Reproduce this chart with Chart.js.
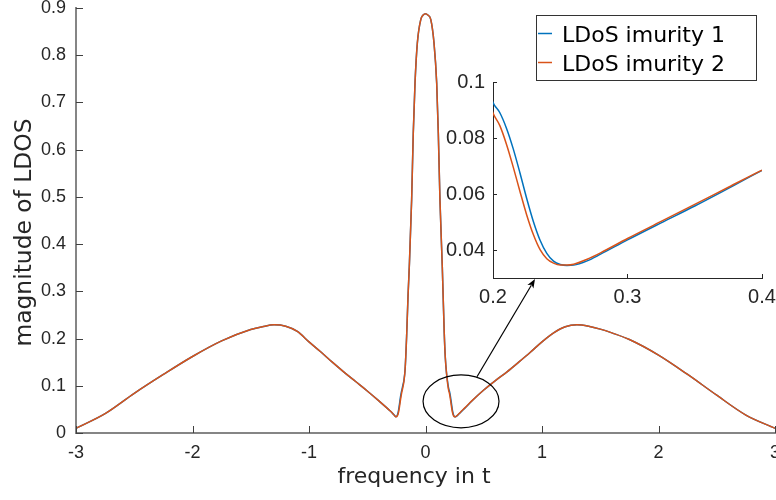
<!DOCTYPE html>
<html>
<head>
<meta charset="utf-8">
<script src="https://cdn.jsdelivr.net/npm/chart.js@4.4.0/dist/chart.umd.min.js"></script>
<style>
  html, body { margin: 0; padding: 0; background: #ffffff; }
  #wrap { position: relative; width: 776px; height: 500px; overflow: hidden; }
  #main { position: absolute; left: 0; top: 0; }
  #inset { position: absolute; left: 443px; top: 72px; }
</style>
</head>
<body>
<div id="wrap">
  <canvas id="main" width="776" height="500"></canvas>
  <canvas id="inset" width="333" height="240"></canvas>
</div>
<script>
// Local density of states for the two impurities versus frequency
const freq = [
  -3, -2.75, -2.5, -2.25, -2, -1.75, -1.5, -1.4, -1.3, -1.2, -1.1, -1, -0.9, -0.8, -0.7, -0.6, -0.5, -0.4, -0.3,
  -0.28, -0.265, -0.255, -0.245, -0.235, -0.225, -0.215, -0.205, -0.195, -0.185, -0.175, -0.162, -0.15, -0.139,
  -0.119, -0.105, -0.09, -0.07, -0.04, -0.02, 0, 0.02, 0.045, 0.073, 0.096, 0.11, 0.124, 0.144, 0.161, 0.17,
  0.18, 0.19, 0.2, 0.205, 0.21, 0.215, 0.22, 0.225, 0.23, 0.235, 0.24, 0.245, 0.25, 0.255, 0.26, 0.27, 0.28,
  0.3, 0.325, 0.35, 0.375, 0.4, 0.5, 0.6, 0.7, 0.8, 0.9, 1, 1.1, 1.2, 1.3, 1.4, 1.5, 1.6, 1.75, 2, 2.25, 2.5,
  2.75, 3
];
const ldos1 = [
  0.010, 0.041, 0.084, 0.124, 0.162, 0.195, 0.219, 0.225, 0.229, 0.226, 0.215, 0.193, 0.172, 0.150, 0.129, 0.109, 0.089, 0.068, 0.046,
  0.041, 0.037, 0.0345, 0.0360, 0.0435, 0.0585, 0.0762, 0.0891, 0.100, 0.112, 0.135, 0.205, 0.29, 0.353,
  0.494, 0.635, 0.741, 0.826, 0.876, 0.885, 0.888, 0.885, 0.876, 0.826, 0.741, 0.635, 0.494, 0.353, 0.211, 0.16,
  0.128, 0.108, 0.0927, 0.0891, 0.0835, 0.0762, 0.0676, 0.0585, 0.0502, 0.0435, 0.0388, 0.0360, 0.0348, 0.0345, 0.0346, 0.0361, 0.0385,
  0.0436, 0.0497, 0.0557, 0.062, 0.0684, 0.091, 0.111, 0.1295, 0.150, 0.171, 0.193, 0.212, 0.225, 0.229, 0.226, 0.220, 0.212, 0.198, 0.165, 0.124, 0.080,
  0.038, 0.010
];
const ldos2 = [
  0.010, 0.041, 0.084, 0.124, 0.162, 0.195, 0.219, 0.225, 0.229, 0.226, 0.215, 0.193, 0.172, 0.150, 0.129, 0.109, 0.089, 0.068, 0.046,
  0.041, 0.0365, 0.0346, 0.0353, 0.0401, 0.0526, 0.0697, 0.0845, 0.096, 0.110, 0.135, 0.205, 0.29, 0.353,
  0.494, 0.635, 0.741, 0.826, 0.876, 0.885, 0.888, 0.885, 0.876, 0.826, 0.741, 0.635, 0.494, 0.353, 0.211, 0.16,
  0.128, 0.104, 0.0889, 0.0845, 0.0778, 0.0697, 0.0610, 0.0526, 0.0455, 0.0401, 0.0369, 0.0353, 0.0346, 0.0346, 0.0349, 0.0367, 0.039,
  0.0441, 0.0502, 0.0563, 0.0624, 0.0685, 0.091, 0.111, 0.1295, 0.150, 0.171, 0.193, 0.212, 0.225, 0.229, 0.226, 0.220, 0.212, 0.198, 0.165, 0.124, 0.080,
  0.038, 0.010
];
const seriesNames = ['LDoS imurity 1', 'LDoS imurity 2'];

const xTickValues = [-3, -2, -1, 0, 1, 2, 3];
const xTickLabels = ['-3', '-2', '-1', '0', '1', '2', '3'];
const yTickValues = [0, 0.1, 0.2, 0.3, 0.4, 0.5, 0.6, 0.7, 0.8, 0.9];
const yTickLabels = ['0', '0.1', '0.2', '0.3', '0.4', '0.5', '0.6', '0.7', '0.8', '0.9'];
const insetXTickValues = [0.2, 0.3, 0.4];
const insetXTickLabels = ['0.2', '0.3', '0.4'];
const insetYTickValues = [0.04, 0.06, 0.08, 0.1];
const insetYTickLabels = ['0.04', '0.06', '0.08', '0.1'];

const xTitle = 'frequency in t';
const yTitle = 'magnitude of LDOS';

// Ellipse marking the dip next to the central peak, and the arrow pointing to the magnified view (data units)
const dipMarker = { cx: 0.305, cy: 0.067, rx: 0.326, ry: 0.056 };
const dipArrow = { x0: 0.442, y0: 0.119, x1: 0.94, y1: 0.326 };

const COLORS = ['#0072BD', '#D95319'];
const TEXT = '#262626';
const TICK_FAMILY = "'Liberation Sans', Arial, sans-serif";
const LABEL_FAMILY = "'DejaVu Sans', 'Liberation Sans', sans-serif";

Chart.defaults.color = TEXT;

function points(ys) {
  return freq.map((x, i) => ({ x: x, y: ys[i] }));
}

function makeDatasets() {
  return [ldos1, ldos2].map((ys, i) => ({
    label: seriesNames[i],
    data: points(ys),
    borderColor: COLORS[i],
    backgroundColor: COLORS[i],
    borderWidth: 1.5,
    pointRadius: 0,
    showLine: true,
    fill: false,
    cubicInterpolationMode: 'monotone',
    order: i === 0 ? 1 : 0,
    clip: 0
  }));
}

// Axis with a fixed list of ticks, fixed thickness and no extra label padding
function axis(min, max, values, labels, opts) {
  return {
    type: 'linear', min: min, max: max,
    afterBuildTicks(scale) { scale.ticks = values.map(v => ({ value: v })); },
    afterFit(s) {
      if (s.isHorizontal()) { s.height = opts.thickness; } else { s.width = opts.thickness; }
      s.paddingLeft = 0; s.paddingRight = 0; s.paddingTop = 0; s.paddingBottom = 0;
    },
    grid: { display: true, drawOnChartArea: false, drawTicks: false },
    border: { display: true, color: opts.lineColor, width: opts.lineWidth },
    ticks: {
      font: { family: TICK_FAMILY, size: opts.fontSize },
      color: TEXT,
      padding: opts.padding,
      maxRotation: 0,
      autoSkip: false,
      callback(value, index) { return labels[index]; }
    }
  };
}

// Tick marks pointing into the plot area
function inwardTicks(len, color) {
  return {
    id: 'inwardTicks',
    afterDatasetsDraw(chart) {
      const { ctx, chartArea: a, scales } = chart;
      ctx.save();
      ctx.strokeStyle = color;
      ctx.lineWidth = 1;
      ctx.beginPath();
      scales.x.ticks.forEach(t => {
        const px = Math.round(scales.x.getPixelForValue(t.value)) + 0.5;
        ctx.moveTo(px, a.bottom);
        ctx.lineTo(px, a.bottom - len);
      });
      scales.y.ticks.forEach(t => {
        const py = Math.round(scales.y.getPixelForValue(t.value)) + 0.5;
        ctx.moveTo(a.left, py);
        ctx.lineTo(a.left + len, py);
      });
      ctx.stroke();
      ctx.restore();
    }
  };
}

const annotations = {
  id: 'annotations',
  afterDatasetsDraw(chart) {
    const { ctx, scales: { x, y } } = chart;
    ctx.save();
    ctx.strokeStyle = '#000000';
    ctx.fillStyle = '#000000';
    ctx.lineWidth = 1.2;
    // ellipse around the dip
    const cx = x.getPixelForValue(dipMarker.cx);
    const cy = y.getPixelForValue(dipMarker.cy);
    const rx = x.getPixelForValue(dipMarker.cx + dipMarker.rx) - cx;
    const ry = cy - y.getPixelForValue(dipMarker.cy + dipMarker.ry);
    ctx.beginPath();
    ctx.ellipse(cx, cy, rx, ry, 0, 0, Math.PI * 2);
    ctx.stroke();
    // arrow towards the magnified view
    const x0 = x.getPixelForValue(dipArrow.x0), y0 = y.getPixelForValue(dipArrow.y0);
    const x1 = x.getPixelForValue(dipArrow.x1), y1 = y.getPixelForValue(dipArrow.y1);
    const ang = Math.atan2(y1 - y0, x1 - x0);
    const hl = 9, hw = 3.5;
    const c = Math.cos(ang), s = Math.sin(ang);
    ctx.beginPath();
    ctx.moveTo(x0, y0);
    ctx.lineTo(x1 - c * hl * 0.8, y1 - s * hl * 0.8);
    ctx.stroke();
    ctx.beginPath();
    ctx.moveTo(x1, y1);
    ctx.lineTo(x1 - c * hl - s * hw, y1 - s * hl + c * hw);
    ctx.lineTo(x1 - c * hl * 0.75, y1 - s * hl * 0.75);
    ctx.lineTo(x1 - c * hl + s * hw, y1 - s * hl - c * hw);
    ctx.closePath();
    ctx.fill();
    ctx.restore();
  }
};

// Axis titles and the boxed legend
const labelsAndLegend = {
  id: 'labelsAndLegend',
  afterDraw(chart) {
    const { ctx } = chart;
    ctx.save();
    ctx.fillStyle = TEXT;
    ctx.textAlign = 'center';
    ctx.textBaseline = 'middle';
    ctx.font = '22px ' + LABEL_FAMILY;
    ctx.fillText(xTitle, 414, 477);
    ctx.save();
    ctx.translate(25, 232.5);
    ctx.rotate(-Math.PI / 2);
    ctx.font = '23.4px ' + LABEL_FAMILY;
    ctx.fillText(yTitle, 0, 0);
    ctx.restore();

    // legend box
    const bx = 536.5, by = 15.5, bw = 220, bh = 65;
    ctx.fillStyle = '#ffffff';
    ctx.fillRect(bx, by, bw, bh);
    ctx.strokeStyle = '#333333';
    ctx.lineWidth = 1;
    ctx.strokeRect(bx, by, bw, bh);
    ctx.font = '22px ' + LABEL_FAMILY;
    ctx.textAlign = 'left';
    ctx.textBaseline = 'alphabetic';
    seriesNames.forEach((name, i) => {
      const ly = 33.5 + i * 29;
      ctx.strokeStyle = COLORS[i];
      ctx.lineWidth = 1.5;
      ctx.beginPath();
      ctx.moveTo(538, ly);
      ctx.lineTo(552, ly);
      ctx.stroke();
      ctx.fillStyle = '#000000';
      ctx.fillText(name, 562, ly + 8);
    });
    ctx.restore();
  }
};

new Chart(document.getElementById('main'), {
  type: 'scatter',
  data: { datasets: makeDatasets() },
  options: {
    responsive: false,
    animation: false,
    events: [],
    layout: { autoPadding: false, padding: { top: 8, right: 1, left: 0, bottom: 0 } },
    plugins: { legend: { display: false }, tooltip: { enabled: false } },
    scales: {
      x: axis(-3, 3, xTickValues, xTickLabels, { thickness: 67, lineColor: '#858585', lineWidth: 2, fontSize: 18, padding: 9 }),
      y: axis(0, 0.9, yTickValues, yTickLabels, { thickness: 76, lineColor: '#858585', lineWidth: 2, fontSize: 18, padding: 10 })
    }
  },
  plugins: [inwardTicks(7, '#404040'), annotations, labelsAndLegend]
});

// Magnified view of the dip at positive frequency
new Chart(document.getElementById('inset'), {
  type: 'scatter',
  data: { datasets: makeDatasets() },
  options: {
    responsive: false,
    animation: false,
    events: [],
    layout: { autoPadding: false, padding: { top: 10, right: 14, left: 0, bottom: 0 } },
    plugins: { legend: { display: false }, tooltip: { enabled: false } },
    scales: {
      x: axis(0.2, 0.4, insetXTickValues, insetXTickLabels, { thickness: 34, lineColor: '#262626', lineWidth: 1, fontSize: 20, padding: 7 }),
      y: axis(0.03, 0.1, insetYTickValues, insetYTickLabels, { thickness: 50, lineColor: '#262626', lineWidth: 1, fontSize: 20, padding: 8 })
    }
  },
  plugins: [inwardTicks(4, '#262626')]
});
</script>
</body>
</html>
